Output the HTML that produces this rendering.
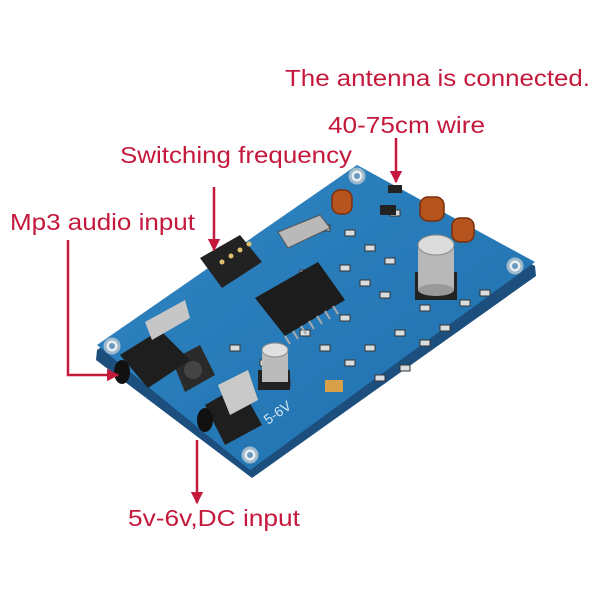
<!DOCTYPE html>
<html><head><meta charset="utf-8"><style>
html,body{margin:0;padding:0;background:#fff;}
svg{display:block}
text{font-family:"Liberation Sans",sans-serif;fill:#c4183c;font-size:23px}
</style></head><body>
<svg width="600" height="600" viewBox="0 0 600 600" xmlns="http://www.w3.org/2000/svg">
<defs>
<linearGradient id="pcb" x1="0" y1="0" x2="1" y2="1">
<stop offset="0" stop-color="#2f86c2"/><stop offset="1" stop-color="#1f6fad"/>
</linearGradient>
<marker id="ah" viewBox="0 0 10 10" refX="9" refY="5" markerWidth="5" markerHeight="5" orient="auto"><path d="M0,0L10,5L0,10z" fill="#c4183c"/></marker>
</defs>
<path d="M97,350 L357,170 L535,266 L536,276 L252,478 L96,360 Z" fill="#1d4f7e"/>
<path d="M97,345 L357,165 L535,262 L250,470 Z" fill="url(#pcb)"/>
<g fill="#e8eef2" stroke="#9fb9cc" stroke-width="3">
<circle cx="357" cy="176" r="7"/><circle cx="515" cy="266" r="7"/><circle cx="250" cy="455" r="7"/><circle cx="112" cy="346" r="7"/>
</g>
<g fill="#6a98bf"><circle cx="357" cy="176" r="3"/><circle cx="515" cy="266" r="3"/><circle cx="250" cy="455" r="3"/><circle cx="112" cy="346" r="3"/></g>
<g fill="#d8dde0" stroke="#333" stroke-width="1">
<rect x="345" y="230" width="10" height="6"/><rect x="365" y="245" width="10" height="6"/><rect x="385" y="258" width="10" height="6"/><rect x="340" y="265" width="10" height="6"/><rect x="360" y="280" width="10" height="6"/><rect x="380" y="292" width="10" height="6"/><rect x="320" y="300" width="10" height="6"/><rect x="340" y="315" width="10" height="6"/><rect x="300" y="330" width="10" height="6"/><rect x="320" y="345" width="10" height="6"/><rect x="345" y="360" width="10" height="6"/><rect x="365" y="345" width="10" height="6"/><rect x="395" y="330" width="10" height="6"/><rect x="260" y="360" width="10" height="6"/><rect x="230" y="345" width="10" height="6"/><rect x="420" y="340" width="10" height="6"/><rect x="440" y="325" width="10" height="6"/><rect x="400" y="365" width="10" height="6"/><rect x="375" y="375" width="10" height="6"/><rect x="390" y="210" width="10" height="6"/><rect x="320" y="225" width="10" height="6"/>
<rect x="460" y="300" width="10" height="6"/><rect x="480" y="290" width="10" height="6"/><rect x="300" y="270" width="10" height="6"/><rect x="280" y="380" width="10" height="6"/><rect x="420" y="305" width="10" height="6"/>
</g>
<path d="M200,258 L240,235 L262,262 L222,288 Z" fill="#222"/>
<g fill="#e0c070"><circle cx="222" cy="262" r="2.5"/><circle cx="231" cy="256" r="2.5"/><circle cx="240" cy="250" r="2.5"/><circle cx="249" cy="244" r="2.5"/></g>
<path d="M278,232 L320,215 L330,228 L288,248 Z" fill="#b9b9b9" stroke="#555"/>
<path d="M255,298 L318,262 L345,300 L285,336 Z" fill="#1c1c1c"/>
<g stroke="#aaa" stroke-width="2"><line x1="285" y1="336" x2="290" y2="344"/><line x1="293" y1="331" x2="298" y2="339"/><line x1="301" y1="326" x2="306" y2="334"/><line x1="309" y1="321" x2="314" y2="329"/><line x1="317" y1="316" x2="322" y2="324"/><line x1="325" y1="311" x2="330" y2="319"/><line x1="333" y1="306" x2="338" y2="314"/></g>
<g fill="#b5541f" stroke="#7a2f0a" stroke-width="1.5">
<rect x="332" y="190" width="20" height="24" rx="8"/><rect x="420" y="197" width="24" height="24" rx="8"/><rect x="452" y="218" width="22" height="24" rx="8"/>
</g>
<rect x="380" y="205" width="16" height="10" fill="#222"/>
<rect x="388" y="185" width="14" height="8" fill="#222"/>
<rect x="415" y="272" width="42" height="28" fill="#222"/>
<rect x="418" y="245" width="36" height="45" fill="#b8b8b8"/>
<ellipse cx="436" cy="245" rx="18" ry="10" fill="#dcdcdc" stroke="#888"/>
<ellipse cx="436" cy="290" rx="18" ry="6" fill="#999"/>
<rect x="258" y="370" width="32" height="20" fill="#222"/>
<rect x="262" y="350" width="26" height="32" fill="#bbb"/>
<ellipse cx="275" cy="350" rx="13" ry="7" fill="#e0e0e0" stroke="#888"/>
<rect x="325" y="380" width="18" height="12" fill="#d9a04a"/>
<path d="M172,360 L200,345 L215,375 L185,392 Z" fill="#2a2a2a"/>
<circle cx="193" cy="370" r="9" fill="#444"/>
<path d="M120,355 L160,330 L190,360 L148,388 Z" fill="#1e1e1e"/>
<path d="M145,322 L185,300 L190,318 L152,340 Z" fill="#c6c6c6"/>
<ellipse cx="122" cy="372" rx="8" ry="12" fill="#111"/>
<path d="M205,405 L240,385 L262,425 L225,445 Z" fill="#1e1e1e"/>
<path d="M218,385 L248,370 L258,400 L230,415 Z" fill="#c9c9c9"/>
<ellipse cx="205" cy="420" rx="8" ry="12" fill="#111"/>
<text x="268" y="425" font-size="11" style="fill:#d0e4f2;font-size:14px" transform="rotate(-35 268 425)">5-6V</text>
<text x="285" y="86" textLength="305" lengthAdjust="spacingAndGlyphs">The antenna is connected.</text>
<text x="328" y="133" textLength="157" lengthAdjust="spacingAndGlyphs">40-75cm wire</text>
<text x="120" y="163" textLength="232" lengthAdjust="spacingAndGlyphs">Switching frequency</text>
<text x="10" y="230" textLength="185" lengthAdjust="spacingAndGlyphs">Mp3 audio input</text>
<text x="128" y="526" textLength="172" lengthAdjust="spacingAndGlyphs">5v-6v,DC input</text>
<g stroke="#c4183c" stroke-width="2.5" fill="none">
<line x1="396" y1="138" x2="396" y2="182" marker-end="url(#ah)"/>
<line x1="214" y1="187" x2="214" y2="250" marker-end="url(#ah)"/>
<polyline points="68,240 68,375 118,375" marker-end="url(#ah)"/>
<line x1="197" y1="440" x2="197" y2="503" marker-end="url(#ah)"/>
</g>
</svg>
</body></html>
